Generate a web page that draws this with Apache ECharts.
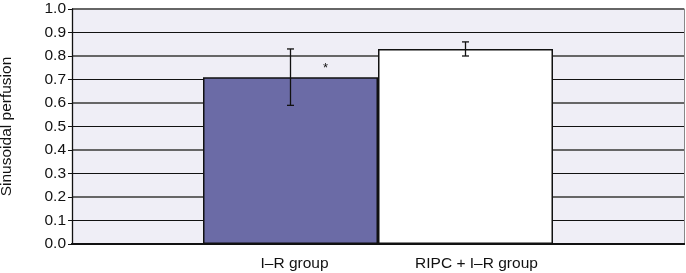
<!DOCTYPE html>
<html>
<head>
<meta charset="utf-8">
<script src="https://cdn.jsdelivr.net/npm/echarts@6/dist/echarts.min.js"></script>
<style>
html,body{margin:0;padding:0;background:#fff}
#chart{width:686px;height:273px}
</style>
</head>
<body>
<div id="chart"></div>
<script>
// 数据
const groupNames = ['I\u2013R group', 'RIPC + I\u2013R group']
const meanValues = [0.71, 0.83]
const errValues = [0.12, 0.03]
const starMarks = ['*', '']
const barColors = ['#6B6BA6', '#FFFFFF']

const barWidth = 175
const fontFam = 'Liberation Sans, Arial, sans-serif'
const chart = echarts.init(document.getElementById('chart'))

const barSeries = groupNames.map((name, i) => ({
  name: name,
  type: 'bar',
  data: [meanValues[i]],
  barWidth: barWidth,
  barGap: '0%',
  itemStyle: { color: barColors[i], borderColor: '#111', borderWidth: 1.5 },
  label: {
    show: true,
    position: 'bottom',
    distance: 12,
    offset: [i === 0 ? 4 : 11, 0],
    formatter: '{a}',
    color: '#111',
    fontSize: 15.5,
    fontFamily: fontFam
  },
  z: 2
}))

// 误差线 + 星号
const errSeries = {
  type: 'custom',
  z: 5,
  data: groupNames.map((n, i) => [i, meanValues[i], errValues[i], starMarks[i]]),
  renderItem: function (params, api) {
    const idx = api.value(0)
    const mean = api.value(1)
    const err = api.value(2)
    const center = api.coord([0, mean])
    const x = center[0] + (idx === 0 ? -barWidth / 2 : barWidth / 2)
    const top = api.coord([0, mean + err])[1]
    const bot = api.coord([0, mean - err])[1]
    const cap = 3.5
    const style = { stroke: '#111', lineWidth: 1.3 }
    const children = [
      { type: 'line', shape: { x1: x, y1: top, x2: x, y2: bot }, style: style },
      { type: 'line', shape: { x1: x - cap, y1: top, x2: x + cap, y2: top }, style: style },
      { type: 'line', shape: { x1: x - cap, y1: bot, x2: x + cap, y2: bot }, style: style }
    ]
    const star = starMarks[idx]
    if (star) {
      children.push({
        type: 'text',
        style: {
          text: star, x: x + 35, y: center[1] - 9,
          fill: '#111', fontSize: 13, align: 'center', verticalAlign: 'middle',
          fontFamily: fontFam
        }
      })
    }
    return { type: 'group', children: children }
  }
}

const option = {
  animation: false,
  grid: {
    left: 72, right: 2, top: 9, bottom: 29,
    outerBoundsMode: 'none',
    show: true, backgroundColor: '#EFEEF6', borderWidth: 0
  },
  xAxis: [
    {
      type: 'category',
      data: [''],
      axisLine: { show: true, lineStyle: { color: '#111', width: 2 } },
      axisTick: { show: false },
      axisLabel: { show: false }
    },
    {
      type: 'category',
      position: 'top',
      data: [''],
      axisLine: { show: true, lineStyle: { color: '#111', width: 2 } },
      axisTick: { show: false },
      axisLabel: { show: false }
    }
  ],
  yAxis: [
    {
      type: 'value',
      min: 0,
      max: 1,
      interval: 0.1,
      name: 'Sinusoidal perfusion',
      nameLocation: 'middle',
      nameGap: 57,
      nameTextStyle: { color: '#111', fontSize: 15.5, fontFamily: fontFam },
      axisLine: { show: true, lineStyle: { color: '#111', width: 1.3 } },
      axisTick: { show: true, length: 4, lineStyle: { color: '#111' } },
      axisLabel: {
        color: '#111', fontSize: 15.5, margin: 6,
        fontFamily: fontFam,
        formatter: v => v.toFixed(1)
      },
      splitLine: { show: true, lineStyle: { color: ['#666', '#111'], width: 1 } }
    },
    {
      type: 'value',
      position: 'right',
      min: 0,
      max: 1,
      interval: 0.2,
      axisLine: { show: true, lineStyle: { color: '#888', width: 1 } },
      axisTick: { show: false },
      axisLabel: { show: false },
      splitLine: { show: true, lineStyle: { color: '#666', width: 2 } }
    }
  ],
  series: barSeries.concat([errSeries])
}

chart.setOption(option)
</script>
</body>
</html>
